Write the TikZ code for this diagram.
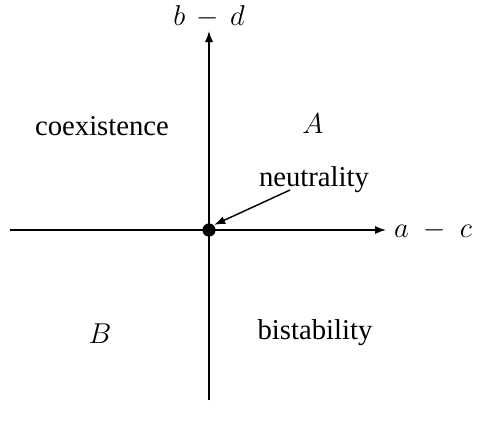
\documentclass[tikz,border=0pt]{standalone}
\usepackage{fontspec}
\setmainfont{Liberation Serif}
\usepackage{tikz}
\usetikzlibrary{arrows.meta,positioning}

\begin{document}
\begin{tikzpicture}[
    x=0.418pt, y=-0.418pt,
    font=\fontsize{12}{14}\selectfont,
    >={Latex[length=4.6pt, width=3.4pt]},
    line width=0.6pt,
    axis/.style={->},
    label/.style={inner sep=1pt, align=center},
    dot/.style={circle, fill=black, inner sep=0pt, minimum size=5.5pt}
]
\useasboundingbox (0,0) rectangle (482,430);

\coordinate (xstart) at (10,230);
\coordinate (xend) at (386,230);
\coordinate (ystart) at (209,400);
\coordinate (yend) at (209,31);
\draw[axis] (xstart) -- (xend);
\draw[axis] (ystart) -- (yend);

\node[label, anchor=west] (xlabel) at (391,230) {$a\;-\;c$};
\node[label, anchor=base] (ylabel) at (209,25) {$b\,-\,d$};

\node[dot] (origin) at (209,230) {};

\node[label] (coexist) at (102,126) {coexistence};
\node[label] (regA) at (313,124) {$A$};
\node[label] (neutral) at (314,180) {neutrality};
\node[label] (regB) at (100,334) {$B$};
\node[label] (bistable) at (315,333) {bistability};

\coordinate (neutraltail) at (290,190);
\draw[->] (neutraltail) -- (origin.north east);
\end{tikzpicture}
\end{document}
